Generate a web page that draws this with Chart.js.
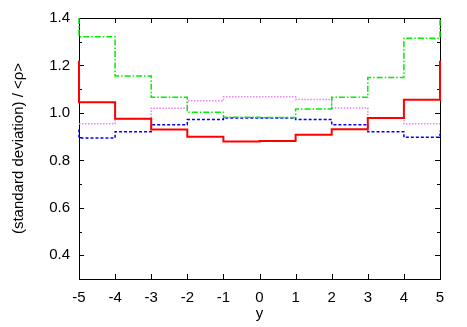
<!DOCTYPE html>
<html>
<head>
<meta charset="utf-8">
<script src="https://cdn.jsdelivr.net/npm/chart.js@4"></script>
<style>
  html, body { margin: 0; padding: 0; background: #fff; }
  #c { display: block; }
</style>
</head>
<body>
<canvas id="c" width="467" height="327"></canvas>
<script>
// bin edges along y, values per bin (10 bins of width 1)
const binEdges = [-5, -4, -3, -2, -1, 0, 1, 2, 3, 4, 5];
const xTicks = [-5, -4, -3, -2, -1, 0, 1, 2, 3, 4, 5];
const yMajorTicks = [0.4, 0.6, 0.8, 1.0, 1.2, 1.4];
const yMinorTicks = [0.3, 0.5, 0.7, 0.9, 1.1, 1.3];

const redValues    = [1.045, 0.975, 0.930, 0.900, 0.880, 0.882, 0.908, 0.931, 0.979, 1.055];
const redEdges     = [1.22, 1.22];
const greenValues  = [1.321, 1.156, 1.066, 1.003, 0.982, 0.981, 1.017, 1.066, 1.149, 1.315];
const greenEdges   = [1.4, 1.4];
const violetValues = [0.954, 0.973, 1.020, 1.051, 1.068, 1.068, 1.057, 1.021, 0.978, 0.954];
const violetEdges  = [0.954, 0.954];
const blueValues   = [0.894, 0.921, 0.950, 0.972, 0.979, 0.979, 0.972, 0.950, 0.921, 0.897];
const blueEdges    = [0.93, 0.925];

const FONT = '"Liberation Sans", Arial, Helvetica, sans-serif';

// histogram steps: edge value, each bin from its left edge, closing edge value
function steps(values, edges) {
  const pts = [{ x: binEdges[0], y: edges[0] }];
  values.forEach((v, i) => pts.push({ x: binEdges[i], y: v }));
  pts.push({ x: binEdges[binEdges.length - 1], y: values[values.length - 1] });
  pts.push({ x: binEdges[binEdges.length - 1], y: edges[1] });
  return pts;
}

function ds(values, edges, color, width, dash) {
  return {
    data: steps(values, edges),
    borderColor: color,
    borderWidth: width,
    borderDash: dash,
    stepped: true,
    pointRadius: 0,
    fill: false,
    clip: 2,
  };
}

// gnuplot-like frame with inward ticks on all four sides, drawn under the lines
const framePlugin = {
  id: 'frame',
  beforeDatasetsDraw(chart) {
    const { ctx, chartArea: a, scales: { x, y } } = chart;
    ctx.save();
    ctx.strokeStyle = '#000';
    ctx.lineWidth = 1;
    ctx.beginPath();
    xTicks.forEach(t => {
      const px = Math.round(x.getPixelForValue(t)) + 0.5;
      ctx.moveTo(px, a.bottom); ctx.lineTo(px, a.bottom - 5);
      ctx.moveTo(px, a.top); ctx.lineTo(px, a.top + 5);
    });
    const yt = (t, len) => {
      const py = Math.round(y.getPixelForValue(t)) + 0.5;
      ctx.moveTo(a.left, py); ctx.lineTo(a.left + len, py);
      ctx.moveTo(a.right, py); ctx.lineTo(a.right - len, py);
    };
    yMajorTicks.forEach(t => yt(t, 5));
    yMinorTicks.forEach(t => yt(t, 3));
    ctx.stroke();
    ctx.strokeRect(Math.round(a.left) + 0.5, Math.round(a.top) + 0.5,
      Math.round(a.right - a.left), Math.round(a.bottom - a.top));
    ctx.restore();
  }
};

new Chart(document.getElementById('c'), {
  type: 'line',
  data: {
    datasets: [
      ds(redValues, redEdges, '#ff0000', 2, []),
      ds(greenValues, greenEdges, '#00ee00', 1.5, [6, 2, 1.5, 2]),
      ds(violetValues, violetEdges, '#ee82ee', 1.5, [1.5, 1.5]),
      ds(blueValues, blueEdges, '#0000ff', 1.5, [3, 2]),
    ]
  },
  options: {
    responsive: false,
    animation: false,
    devicePixelRatio: 1,
    layout: { padding: { top: 18, right: 27, left: 0, bottom: 0 } },
    plugins: { legend: { display: false }, tooltip: { enabled: false } },
    scales: {
      x: {
        type: 'linear',
        min: -5, max: 5,
        grid: { display: false, drawTicks: false },
        border: { display: false },
        ticks: {
          stepSize: 1, padding: 10, color: '#000',
          font: { family: FONT, size: 15 },
          callback: v => String(v),
        },
        title: {
          display: true, text: 'y', color: '#000',
          font: { family: FONT, size: 15 },
          padding: { top: 0, bottom: 4 },
        },
        afterFit: s => { s.height = 48; },
      },
      y: {
        min: 0.3, max: 1.4,
        grid: { display: false, drawTicks: false },
        border: { display: false },
        ticks: {
          stepSize: 0.1, padding: 9, color: '#000',
          font: { family: FONT, size: 15 },
          callback: v => (Math.round(v * 10) % 2 === 0 ? v.toFixed(1) : ''),
        },
        title: {
          display: true, text: '(standard deviation) / <ρ>', color: '#000',
          font: { family: FONT, size: 15 },
          padding: { top: 10, bottom: 0 },
        },
        afterFit: s => { s.width = 79; },
      }
    }
  },
  plugins: [framePlugin]
});
</script>
</body>
</html>
